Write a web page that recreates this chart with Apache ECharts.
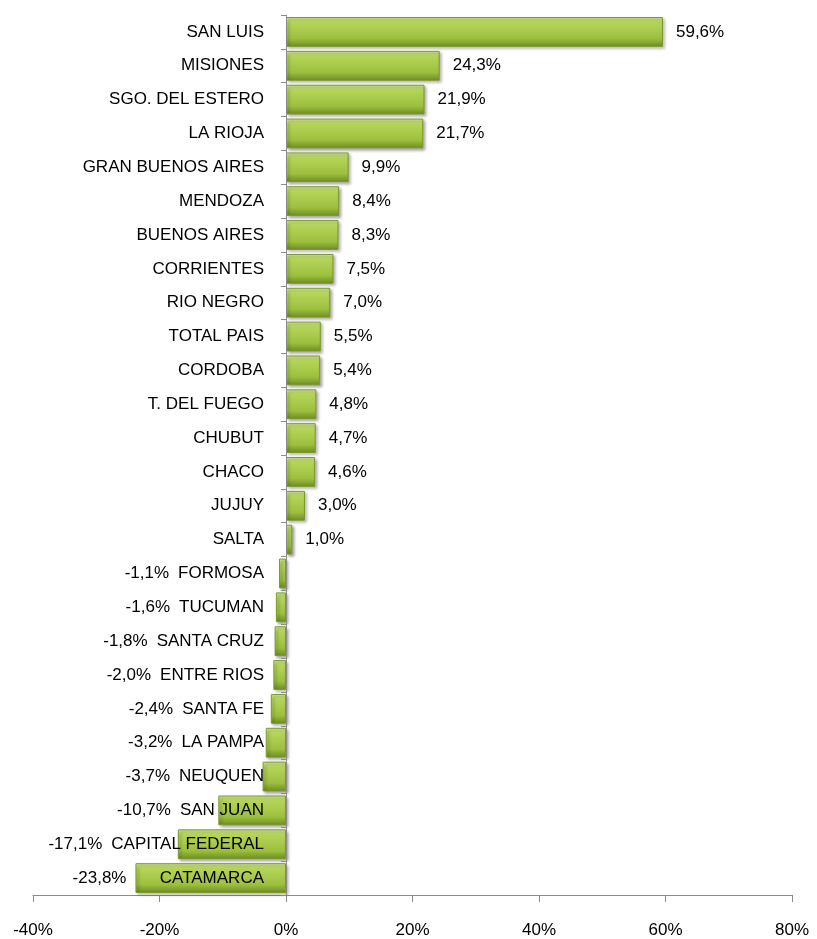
<!DOCTYPE html>
<html>
<head>
<meta charset="utf-8">
<script src="https://cdn.jsdelivr.net/npm/echarts@6/dist/echarts.min.js"></script>
<style>
  html, body { margin: 0; padding: 0; background: #fff; }
  #chart { width: 817px; height: 939px; }
</style>
</head>
<body>
<div id="chart"></div>
<script>
const provincias = [
  'SAN LUIS', 'MISIONES', 'SGO. DEL ESTERO', 'LA RIOJA', 'GRAN BUENOS AIRES',
  'MENDOZA', 'BUENOS AIRES', 'CORRIENTES', 'RIO NEGRO', 'TOTAL PAIS',
  'CORDOBA', 'T. DEL FUEGO', 'CHUBUT', 'CHACO', 'JUJUY', 'SALTA',
  'FORMOSA', 'TUCUMAN', 'SANTA CRUZ', 'ENTRE RIOS', 'SANTA FE',
  'LA PAMPA', 'NEUQUEN', 'SAN JUAN', 'CAPITAL FEDERAL', 'CATAMARCA'
];
const variacion = [
  59.6, 24.3, 21.9, 21.7, 9.9,
  8.4, 8.3, 7.5, 7.0, 5.5,
  5.4, 4.8, 4.7, 4.6, 3.0, 1.0,
  -1.1, -1.6, -1.8, -2.0, -2.4,
  -3.2, -3.7, -10.7, -17.1, -23.8
];
const ejeMin = -40;
const ejeMax = 80;
const ejePaso = 20;

const fontFam = '"Liberation Sans", Arial, sans-serif';
const catSize = 17;
const valSize = 17;
const catMargin = 22;
const gridLeft = 33;

const chart = echarts.init(document.getElementById('chart'));

const fmt = v => v.toFixed(1).replace('.', ',') + '%';

// ancho de texto para correr las etiquetas negativas a la izquierda del nombre
const ctx = document.createElement('canvas').getContext('2d');
ctx.font = catSize + 'px ' + fontFam;
const textW = s => ctx.measureText(s).width;

const barStyle = {
  color: new echarts.graphic.LinearGradient(0, 0, 0, 1, [
    { offset: 0, color: '#d6ec92' },
    { offset: 0.2, color: '#b4d458' },
    { offset: 0.72, color: '#9dbf3e' },
    { offset: 1, color: '#6c8c20' },
  ]),
  borderColor: '#7a9a2c',
  borderWidth: 1,
  shadowBlur: 3,
  shadowOffsetX: 2,
  shadowOffsetY: 2,
  shadowColor: 'rgba(0,0,0,0.35)',
};

function buildData(pxPorUnidad) {
  return variacion.map((v, i) => {
    if (v >= 0) return v;
    const largo = Math.abs(v) * pxPorUnidad;
    const izqNombre = textW(provincias[i]) + catMargin;
    const extra = Math.max(0, izqNombre - largo);
    return {
      value: v,
      label: { position: 'left', distance: 9, offset: [-extra, 0] },
    };
  });
}

const option = {
  animation: false,
  grid: { left: gridLeft, right: 25, top: 15, bottom: 44, outerBoundsMode: 'none', containLabel: false },
  xAxis: {
    type: 'value',
    min: ejeMin,
    max: ejeMax,
    interval: ejePaso,
    axisLine: { show: true, lineStyle: { color: '#8c8c8c', width: 1 } },
    axisTick: { show: true, length: 7, lineStyle: { color: '#8c8c8c' } },
    splitLine: { show: false },
    axisLabel: {
      margin: 27,
      color: '#000',
      fontSize: 17,
      fontFamily: fontFam,
      formatter: v => v + '%',
    },
  },
  yAxis: {
    type: 'category',
    inverse: true,
    data: provincias,
    z: 10,
    axisLine: { show: true, onZero: false, lineStyle: { color: '#8c8c8c' } },
    axisTick: { show: true, length: 5, lineStyle: { color: '#8c8c8c' } },
    axisLabel: {
      margin: catMargin,
      color: '#000',
      fontSize: catSize,
      fontFamily: fontFam,
    },
  },
  series: [{
    type: 'bar',
    data: variacion,
    barWidth: '88%',
    itemStyle: barStyle,
    label: {
      show: true,
      position: 'right',
      distance: 13,
      color: '#000',
      fontSize: valSize,
      fontFamily: fontFam,
      formatter: p => fmt(p.value),
    },
  }],
};

chart.setOption(option);
const px0 = chart.convertToPixel({ xAxisIndex: 0 }, 0);
const px1 = chart.convertToPixel({ xAxisIndex: 0 }, 1);
// eje de categorias sobre el cero
chart.setOption({
  yAxis: { offset: -(px0 - gridLeft) },
  series: [{ data: buildData(px1 - px0) }],
});
</script>
</body>
</html>
